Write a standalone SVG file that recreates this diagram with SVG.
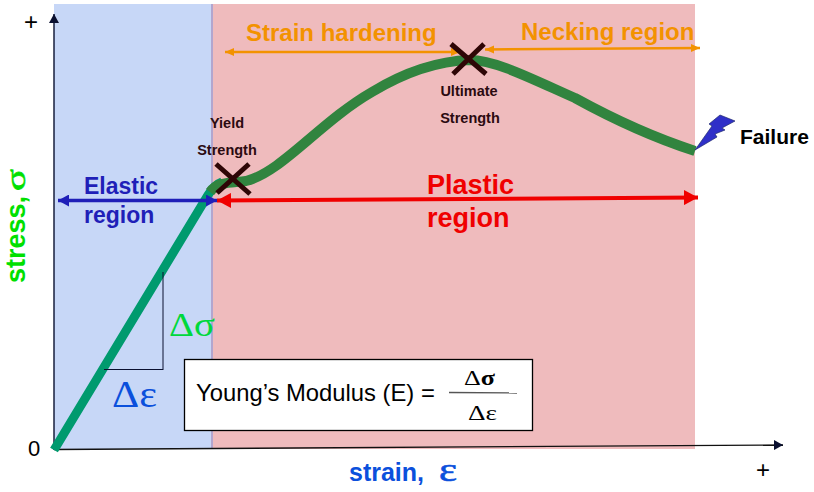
<svg xmlns="http://www.w3.org/2000/svg" width="814" height="492" viewBox="0 0 814 492">
<style>
text{font-family:"Liberation Sans",Arial,sans-serif}
.b{font-weight:bold}
.s{font-family:"Liberation Serif","Times New Roman",serif}
.o{fill:#f39200;font-size:24px;font-weight:bold}
.eb{fill:#1f1fb8;font-size:23px;font-weight:bold}
.pl{fill:#f00000;font-size:27px;font-weight:bold}
.ts{fill:#2b0a10;font-size:14.500px;font-weight:bold}
.curve{fill:none;stroke:#31843f;stroke-width:10}
.x{stroke:#2e0606;stroke-width:5;fill:none}
</style>
<defs>
<marker id="ao" markerUnits="userSpaceOnUse" markerWidth="10" markerHeight="10" refX="9" refY="5" orient="auto-start-reverse"><path d="M0,1 L9,5 L0,9 Z" fill="#f39200"/></marker>
<marker id="ab" markerUnits="userSpaceOnUse" markerWidth="12" markerHeight="12" refX="11" refY="6" orient="auto-start-reverse"><path d="M0,0 L11,6 L0,12 Z" fill="#1f1fb8"/></marker>
<marker id="ar" markerUnits="userSpaceOnUse" markerWidth="15" markerHeight="15" refX="14" refY="7.500" orient="auto-start-reverse"><path d="M0,0 L14,7.500 L0,15 Z" fill="#f00000"/></marker>
<marker id="ak" markerUnits="userSpaceOnUse" markerWidth="10" markerHeight="10" refX="9" refY="5" orient="auto"><path d="M0,0 L9,5 L0,10 Z" fill="#0a1030"/></marker>
</defs>
<g id="regions">
<rect x="54" y="4" width="158" height="445" fill="#c7d7f7"/>
<rect x="213" y="4" width="482" height="445" fill="#efbbbd"/>
<rect x="211" y="4" width="2" height="445" fill="#b2a6cf"/>
</g>
<g id="connectors">
<line x1="54" y1="450" x2="54" y2="14" stroke="#0a1030" stroke-width="1.400" marker-end="url(#ak)"/>
<line x1="54" y1="449.500" x2="783" y2="445" stroke="#111" stroke-width="1.300" marker-end="url(#ak)"/>
<path d="M54,450 L208,195 Q214,185 222,182" fill="none" stroke="#009a6e" stroke-width="9"/>
<path class="curve" d="M210,192 C218,181 232,183 246,181 C282,172 320,122 372,92 C405,72 440,61 470,60 C495,60 530,78 575,98 C615,120 655,138 695,151"/>
<path d="M163,272 V370 M104,369.500 H163" fill="none" stroke="#0a1030" stroke-width="1"/>
<line x1="225" y1="52" x2="460" y2="52" stroke="#f39200" stroke-width="2.500" marker-start="url(#ao)" marker-end="url(#ao)"/>
<line x1="485" y1="49.500" x2="700" y2="48" stroke="#f39200" stroke-width="2.500" marker-start="url(#ao)" marker-end="url(#ao)"/>
<line x1="217" y1="200.500" x2="698" y2="197.500" stroke="#f00000" stroke-width="4" marker-start="url(#ar)" marker-end="url(#ar)"/>
<line x1="58" y1="200.500" x2="217" y2="200.500" stroke="#1f1fb8" stroke-width="3.500" marker-start="url(#ab)" marker-end="url(#ab)"/>
</g>
<g id="axis-labels">
<text x="24" y="30" font-size="24">+</text>
<text x="756" y="478" font-size="24">+</text>
<text x="28" y="456" font-size="22">0</text>
<text transform="translate(25,283) rotate(-90)" font-size="27" fill="#00e000" class="b">stress,</text>
<text class="s" transform="translate(25,191) rotate(-90)" font-size="28" fill="#00e000" stroke="#00e000" stroke-width="0.600" textLength="22" lengthAdjust="spacingAndGlyphs">σ</text>
<text x="349" y="481" font-size="25" fill="#0b50dc" class="b">strain,</text>
<text class="s" x="439" y="481" font-size="34" fill="#0b50dc" textLength="18" lengthAdjust="spacingAndGlyphs" stroke="#0b50dc" stroke-width="0.600">ε</text>
</g>
<g id="yield-strength">
<text class="ts" x="227" y="128" text-anchor="middle">Yield</text>
<text class="ts" x="227" y="155" text-anchor="middle">Strength</text>
<path class="x" d="M216,164 L250,194 M249,164 L217,193"/>
</g>
<g id="ultimate-strength">
<text class="ts" x="469" y="96" text-anchor="middle">Ultimate</text>
<text class="ts" x="470" y="123" text-anchor="middle">Strength</text>
<path class="x" d="M451,44 L486,74 M484,44 L453,74"/>
</g>
<g id="strain-hardening"><text class="o" x="246" y="41">Strain hardening</text></g>
<g id="necking-region"><text class="o" x="521" y="40">Necking region</text></g>
<g id="elastic-region">
<text class="eb" x="84" y="194">Elastic</text>
<text class="eb" x="84" y="223">region</text>
</g>
<g id="plastic-region">
<text class="pl" x="427" y="194">Plastic</text>
<text class="pl" x="427" y="227">region</text>
</g>
<g id="failure">
<path d="M695,150 L712,126 L709,124 L720,115 L735,121 L722,128 L725,130 L715,134 L717,137 Z" fill="#2f2fc8" stroke="#1f2a6e" stroke-width="0.700"/>
<text x="740" y="144" font-size="21" class="b" fill="#000">Failure</text>
</g>
<g id="delta-labels">
<text class="s" x="169" y="336" font-size="33" fill="#00d83c" textLength="46" lengthAdjust="spacingAndGlyphs">Δσ</text>
<text class="s" x="112" y="407" font-size="38" fill="#0b50dc" textLength="45" lengthAdjust="spacingAndGlyphs">Δε</text>
</g>
<g id="youngs-modulus">
<rect x="184.500" y="359.500" width="348" height="71" fill="#fff" stroke="#000" stroke-width="1.300"/>
<text x="196" y="401" font-size="23.800" fill="#000">Young’s Modulus (E) =</text>
<text class="s" x="464" y="385" font-size="22" fill="#000" textLength="31" lengthAdjust="spacingAndGlyphs">Δ<tspan font-weight="bold">σ</tspan></text>
<text class="s" x="468" y="420" font-size="22" fill="#000" textLength="29" lengthAdjust="spacingAndGlyphs">Δε</text>
<line x1="449" y1="392.500" x2="517" y2="393" stroke="#555" stroke-width="1.300"/>
</g>
</svg>
